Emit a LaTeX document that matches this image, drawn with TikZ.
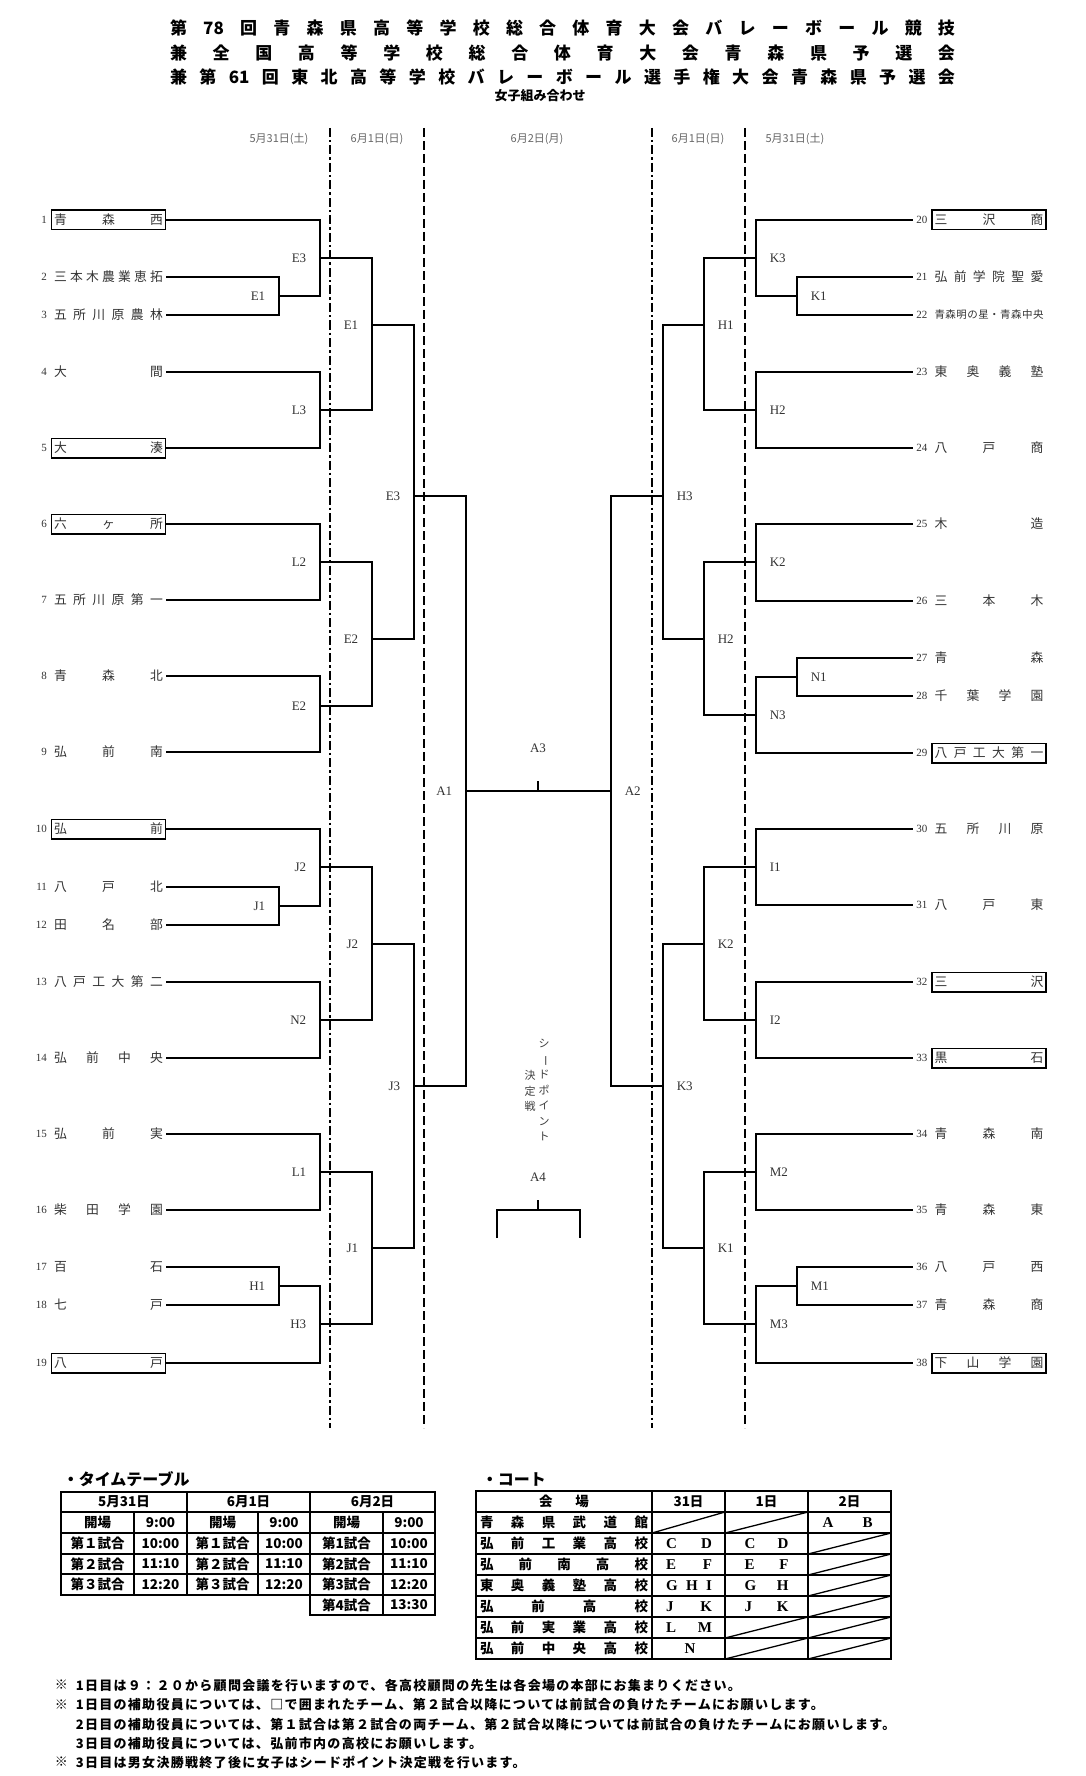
\documentclass[tikz,border=0pt]{standalone}
\usepackage{fontspec}
\setmainfont{Liberation Serif}
\newfontfamily\jp{Noto Sans CJK JP}
\newfontfamily\jpnote{Noto Sans CJK JP}[LetterSpace=10]
\ExplSyntaxOn
\NewDocumentCommand\spread{m}{\exp_args:No\tl_map_inline:nn{#1}{##1\hfill}\unskip}
\ExplSyntaxOff
\tikzset{
every picture/.style={line width=1.6pt, x=1pt, y=-1pt},
%%%%%%%%%%  Node styles
team/.style={inner sep=2.5pt, minimum height=19.5pt, line width=1.5pt,
             text=black!80, font=\jp\fontsize{12.8}{14}\selectfont},
boxed/.style={draw=black},
plain/.style={},
small/.style={font=\jp\fontsize{10.5}{12}\selectfont},
num/.style={inner xsep=3pt, inner ysep=1pt, text=black!80,
            font=\fontsize{11}{12}\selectfont},
lab/.style={inner sep=1pt, text=black!80, font=\fontsize{13}{14}\selectfont},
labl/.style={lab, xshift=-12pt},
labr/.style={lab, xshift=12pt},
date/.style={text=black!60, font=\jp\fontsize{11}{12}\selectfont},
title/.style={inner sep=0pt, font=\jp\bfseries\fontsize{17}{19}\selectfont},
seed/.style={align=center, inner sep=0pt, text=black!75,
             font=\jp\fontsize{11}{15.5}\selectfont},
head/.style={anchor=west, inner sep=0pt, font=\jp\bfseries\fontsize{16}{17}\selectfont},
cell/.style={inner sep=0pt, font=\jp\bfseries\fontsize{13.5}{14}\selectfont},
letter/.style={inner sep=0pt, font=\bfseries\fontsize{15}{16}\selectfont},
note/.style={anchor=west, inner sep=0pt, font=\jpnote\bfseries\fontsize{13}{14}\selectfont},
%%%% different line styles:
daydot/.style={line width=2.4pt, dash pattern=on 9pt off 3pt on 2.5pt off 3pt},
daydash/.style={line width=2.4pt, dash pattern=on 9pt off 4pt},
grid/.style={line width=1.8pt},
slash/.style={line width=1.3pt}
}

\begin{document}
\begin{tikzpicture}
\useasboundingbox (0,0) rectangle (1085,1776);
\fill[white] (0,0) rectangle (1085,1776);
%% heading
\node[title] (title1) at (562.5,28) {\makebox[785pt]{\spread{第{78}回青森県高等学校総合体育大会バレーボール競技}}};
\node[title] (title2) at (562.5,53) {\makebox[785pt]{\spread{兼全国高等学校総合体育大会青森県予選会}}};
\node[title] (title3) at (562.5,77) {\makebox[785pt]{\spread{兼第{61}回東北高等学校バレーボール選手権大会青森県予選会}}};
\node[title, font=\jp\bfseries\fontsize{13}{14}\selectfont] (sub) at (540,96) {女子組み合わせ};
\node[date] (d1) at (279,139) {5月31日(土)};
\node[date] (d2) at (377,139) {6月1日(日)};
\node[date] (d3) at (537,139) {6月2日(月)};
\node[date] (d4) at (698,139) {6月1日(日)};
\node[date] (d5) at (795,139) {5月31日(土)};
\draw[daydot] (330,128) -- (330,1428);
\draw[daydash] (424,128) -- (424,1428);
\draw[daydot] (652,128) -- (652,1428);
\draw[daydash] (745,128) -- (745,1428);
%% teams
\foreach \i/\y/\n/\b in {1/220/青森西/boxed, 2/277/三本木農業恵拓/plain,
  3/315/五所川原農林/plain, 4/372/大間/plain, 5/448/大湊/boxed,
  6/524/六ヶ所/boxed, 7/600/五所川原第一/plain, 8/676/青森北/plain,
  9/752/弘前南/plain, 10/829/弘前/boxed, 11/887/八戸北/plain,
  12/925/田名部/plain, 13/982/八戸工大第二/plain, 14/1058/弘前中央/plain,
  15/1134/弘前実/plain, 16/1210/柴田学園/plain, 17/1267/百石/plain,
  18/1305/七戸/plain, 19/1363/八戸/boxed}
  \node[team,\b,label={[num,name=n\i]left:\i}] (t\i) at (108.5,\y) {\makebox[109pt]{\spread{\n}}};
\foreach \i/\y/\n/\b in {20/220/三沢商/boxed, 21/277/弘前学院聖愛/plain,
  22/315/青森明の星・青森中央/small, 23/372/東奥義塾/plain, 24/448/八戸商/plain,
  25/524/木造/plain, 26/601/三本木/plain, 27/658/青森/plain,
  28/696/千葉学園/plain, 29/753/八戸工大第一/boxed, 30/829/五所川原/plain,
  31/905/八戸東/plain, 32/982/三沢/boxed, 33/1058/黒石/boxed,
  34/1134/青森南/plain, 35/1210/青森東/plain, 36/1267/八戸西/plain,
  37/1305/青森商/plain, 38/1363/下山学園/boxed}
  \node[team,\b,label={[num,name=n\i]left:\i}] (t\i) at (989,\y) {\makebox[109pt]{\spread{\n}}};
%% match points
\foreach \m/\x/\y/\t in {lE1/279/296/E1, lJ1/279/906/J1, lH1/279/1286/H1,
  lE3/320/258/E3, lL3/320/410/L3, lL2/320/562/L2, lE2/320/706/E2,
  lJ2/320/867/J2, lN2/320/1020/N2, lL1/320/1172/L1, lH3/320/1324/H3,
  qE1/372/325/E1, qE2/372/639/E2, qJ2/372/944/J2, qJ1/372/1248/J1,
  sE3/414/496/E3, sJ3/414/1086/J3, a1/466/791/A1}
  \coordinate[label={[labl]left:\t}] (\m) at (\x,\y);
\foreach \m/\x/\y/\t in {rK1/797/296/K1, rN1/797/677/N1, rM1/797/1286/M1,
  rK3/756/258/K3, rH2/756/410/H2, rK2/756/562/K2, rN3/756/715/N3,
  rI1/756/867/I1, rI2/756/1020/I2, rM2/756/1172/M2, rM3/756/1324/M3,
  pH1/704/325/H1, pH2/704/639/H2, pK2/704/944/K2, pK1/704/1248/K1,
  sH3/663/496/H3, sK3/663/1086/K3, a2/611/791/A2}
  \coordinate[label={[labr]right:\t}] (\m) at (\x,\y);
%% brackets
\foreach \a/\m/\b in {t2.east/lE1/t3.east, t11.east/lJ1/t12.east,
  t17.east/lH1/t18.east, t1.east/lE3/lE1, t4.east/lL3/t5.east,
  t6.east/lL2/t7.east, t8.east/lE2/t9.east, t10.east/lJ2/lJ1,
  t13.east/lN2/t14.east, t15.east/lL1/t16.east, lH1/lH3/t19.east,
  lE3/qE1/lL3, lL2/qE2/lE2, lJ2/qJ2/lN2, lL1/qJ1/lH3,
  qE1/sE3/qE2, qJ2/sJ3/qJ1, sE3/a1/sJ3,
  n21.west/rK1/n22.west, n27.west/rN1/n28.west, n36.west/rM1/n37.west,
  n20.west/rK3/rK1, n23.west/rH2/n24.west, n25.west/rK2/n26.west,
  rN1/rN3/n29.west, n30.west/rI1/n31.west, n32.west/rI2/n33.west,
  n34.west/rM2/n35.west, rM1/rM3/n38.west,
  rK3/pH1/rH2, rK2/pH2/rN3, rI1/pK2/rI2, rM2/pK1/rM3,
  pH1/sH3/pH2, pK2/sK3/pK1, sH3/a2/sK3}
  \draw (\a) -| (\m) |- (\b);
%% final
\coordinate (a3) at (538,791);
\coordinate (a3top) at (538,781);
\draw (a1) -- (a2);
\draw (a3) -- (a3top);
\node[lab] (a3l) at (538,748) {A3};
\node[seed] (seed1) at (544,1090) {シ\\\rotatebox[origin=c]{-90}{ー}\\ド\\ポ\\イ\\ン\\ト};
\node[seed] (seed2) at (530,1091) {決\\定\\戦};
\node[lab] (a4l) at (538,1177) {A4};
\coordinate (a4) at (538,1210);
\coordinate (a4top) at (538,1200);
\coordinate (a4left) at (497,1238);
\coordinate (a4right) at (580,1238);
\draw (a4top) -- (a4);
\draw (a4left) |- (a4) -| (a4right);
%% time table
\node[head] (tthead) at (62,1479) {・タイムテーブル};
\draw[grid] (61,1492) rectangle (435,1595);
\foreach \y in {1512,1533,1554,1574} \draw[grid] (61,\y) -- (435,\y);
\foreach \x in {187,310} \draw[grid] (\x,1492) -- (\x,1595);
\foreach \x in {134,258,383} \draw[grid] (\x,1512) -- (\x,1595);
\draw[grid] (310,1595) rectangle (435,1615);
\draw[grid] (383,1595) -- (383,1615);
\node[cell] (tt1) at (124,1502) {5月31日};
\node[cell] (tt2) at (248.5,1502) {6月1日};
\node[cell] (tt3) at (372.5,1502) {6月2日};
\foreach \r/\y/\ka/\kb/\tm in {1/1522.5/開場/開場/9:00, 2/1543.5/第１試合/第1試合/10:00,
  3/1564/第２試合/第2試合/11:10, 4/1584.5/第３試合/第3試合/12:20}{
  \node[cell] (k\r a) at (97.5,\y) {\ka};
  \node[cell] (v\r a) at (160.5,\y) {\tm};
  \node[cell] (k\r b) at (222.5,\y) {\ka};
  \node[cell] (v\r b) at (284,\y) {\tm};
  \node[cell] (k\r c) at (346.5,\y) {\kb};
  \node[cell] (v\r c) at (409,\y) {\tm};
}
\node[cell] (k5c) at (346.5,1605) {第4試合};
\node[cell] (v5c) at (409,1605) {13:30};
%% court table
\node[head] (cthead) at (481,1479) {・コート};
\draw[grid] (476,1491) rectangle (891,1659);
\foreach \y in {1512,1533,1554,1575,1596,1617,1638} \draw[grid] (476,\y) -- (891,\y);
\foreach \x in {652,725,808} \draw[grid] (\x,1491) -- (\x,1659);
\foreach \xa/\xb/\ya/\yb in {652/725/1533/1512, 725/808/1533/1512,
  808/891/1554/1533, 808/891/1575/1554, 808/891/1596/1575, 808/891/1617/1596,
  808/891/1638/1617, 808/891/1659/1638, 725/808/1638/1617, 725/808/1659/1638}
  \draw[slash] (\xa,\ya) -- (\xb,\yb);
\node[cell] (ct0) at (564,1501.5) {\makebox[50pt]{\spread{会場}}};
\node[cell] (ct1) at (688.5,1501.5) {31日};
\node[cell] (ct2) at (766.5,1501.5) {1日};
\node[cell] (ct3) at (849.5,1501.5) {2日};
\foreach \r/\y/\v in {1/1522.5/青森県武道館, 2/1543.5/弘前工業高校, 3/1564.5/弘前南高校,
  4/1585.5/東奥義塾高校, 5/1606.5/弘前高校, 6/1627.5/弘前実業高校, 7/1648.5/弘前中央高校}
  \node[cell] (ven\r) at (564,\y) {\makebox[168pt]{\spread{\v}}};
\node[letter] (c1c) at (847.5,1522.5) {\makebox[50pt]{\spread{AB}}};
\foreach \r/\y/\a/\b in {2/1543.5/CD/CD, 3/1564.5/EF/EF, 4/1585.5/GHI/GH, 5/1606.5/JK/JK}{
  \node[letter] (c\r a) at (689,\y) {\makebox[46pt]{\spread{\a}}};
  \node[letter] (c\r b) at (766.5,\y) {\makebox[44pt]{\spread{\b}}};
}
\node[letter] (c6a) at (689,1627.5) {\makebox[46pt]{\spread{LM}}};
\node[letter] (c7a) at (690,1648.5) {N};
%% notes
\node[note] (mark1) at (54,1685) {※};
\node[note] (note1) at (75,1685) {1日目は９：２０から顧問会議を行いますので、各高校顧問の先生は各会場の本部にお集まりください。};
\node[note] (mark2) at (54,1705) {※};
\node[note] (note2) at (75,1705) {1日目の補助役員については、□で囲まれたチーム、第２試合以降については前試合の負けたチームにお願いします。};
\node[note] (note3) at (75,1725) {2日目の補助役員については、第１試合は第２試合の両チーム、第２試合以降については前試合の負けたチームにお願いします。};
\node[note] (note4) at (75,1744) {3日目の補助役員については、弘前市内の高校にお願いします。};
\node[note] (mark3) at (54,1762) {※};
\node[note] (note5) at (75,1762) {3日目は男女決勝戦終了後に女子はシードポイント決定戦を行います。};
\end{tikzpicture}
\end{document}
